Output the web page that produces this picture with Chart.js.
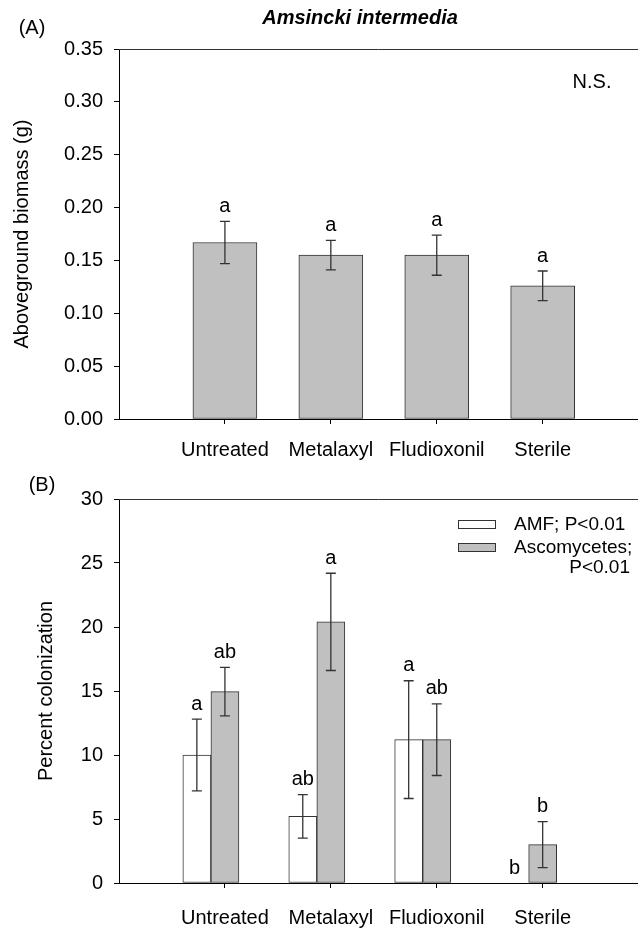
<!DOCTYPE html>
<html><head><meta charset="utf-8">
<script src="https://cdn.jsdelivr.net/npm/chart.js@4/dist/chart.umd.min.js"></script>
<style>
html,body{margin:0;padding:0;background:#fff;}
#wrap{position:relative;width:638px;height:929px;overflow:hidden;}
.box{position:absolute;left:0;width:638px;}
</style></head><body>
<div id="wrap">
<div class="box" style="top:0;height:465px"><canvas id="c1" width="638" height="465"></canvas></div>
<div class="box" style="top:465px;height:464px"><canvas id="c2" width="638" height="464"></canvas></div>
</div>
<script>
// ---- data ----
const categories = ['Untreated', 'Metalaxyl', 'Fludioxonil', 'Sterile'];
const biomass = [0.167, 0.155, 0.155, 0.126];
const biomassErr = [0.020, 0.014, 0.019, 0.014];
const biomassLetters = ['a', 'a', 'a', 'a'];
const amf = [10.0, 5.2, 11.2, 0];
const amfErr = [2.8, 1.7, 4.6, 0];
const amfLetters = ['a', 'ab', 'a', 'b'];
const asco = [14.95, 20.4, 11.2, 3.0];
const ascoErr = [1.9, 3.8, 2.8, 1.8];
const ascoLetters = ['ab', 'a', 'ab', 'b'];
const biomassTicks = [0, 0.05, 0.10, 0.15, 0.20, 0.25, 0.30, 0.35];
const colonTicks = [0, 5, 10, 15, 20, 25, 30];
const seriesNames = ['AMF; P<0.01', 'Ascomycetes;', 'P<0.01'];

// ---- style ----
const FONT = "'Liberation Sans', Arial, Helvetica, sans-serif";
Chart.defaults.font.family = FONT;
Chart.defaults.font.size = 20;
Chart.defaults.color = '#000';
const GRAY = '#c0c0c0';
const EDGE = '#333333';
const AMF_SHIFT = 0.265; // dodge of the AMF bar to the left of its category tick

function xScale(height, pad) {
  return {
    type: 'linear', min: 0, max: 4.9, offset: false,
    afterBuildTicks: s => { s.ticks = categories.map((c, i) => ({ value: i + 1 })); },
    afterFit: s => { s.height = height; },
    ticks: { autoSkip: false, maxRotation: 0, minRotation: 0, padding: pad, callback: v => categories[v - 1] || '' },
    grid: { display: true, offset: false, drawOnChartArea: false, drawTicks: true, tickLength: 5, color: '#000', lineWidth: 1 },
    border: { display: true, color: '#000', width: 1 }
  };
}
function yScale(max, ticks, fmt, title, tpad) {
  return {
    min: 0, max: max,
    afterBuildTicks: s => { s.ticks = ticks.map(v => ({ value: v })); },
    afterFit: s => { s.width = 119; },
    ticks: { padding: 11, callback: fmt },
    grid: { display: true, drawOnChartArea: false, drawTicks: true, tickLength: 5, color: '#000', lineWidth: 1 },
    border: { display: true, color: '#000', width: 1 },
    title: { display: true, text: title, font: { size: 20 }, padding: { top: tpad, bottom: 0 } }
  };
}

function errAndLetters(chart, sets) {
  const ctx = chart.ctx, ys = chart.scales.y;
  ctx.save();
  sets.forEach(([di, vals, errs, letters]) => {
    const meta = chart.getDatasetMeta(di);
    meta.data.forEach((bar, i) => {
      const x = bar.x;
      const top = ys.getPixelForValue(vals[i] + errs[i]);
      const bot = ys.getPixelForValue(vals[i] - errs[i]);
      if (errs[i] > 0) {
        ctx.strokeStyle = EDGE; ctx.lineWidth = 1.3;
        ctx.beginPath();
        ctx.moveTo(x, top); ctx.lineTo(x, bot);
        ctx.moveTo(x - 5, top); ctx.lineTo(x + 5, top);
        ctx.moveTo(x - 5, bot); ctx.lineTo(x + 5, bot);
        ctx.stroke();
      }
      ctx.fillStyle = '#000';
      ctx.font = '20px ' + FONT;
      ctx.textAlign = 'center'; ctx.textBaseline = 'middle';
      ctx.fillText(letters[i], x, top - 15);
    });
  });
  ctx.restore();
}
function topBorder(chart) {
  const ctx = chart.ctx, a = chart.chartArea;
  ctx.save(); ctx.strokeStyle = EDGE; ctx.lineWidth = 1;
  ctx.beginPath(); ctx.moveTo(a.left, a.top + 0.5); ctx.lineTo(a.right, a.top + 0.5); ctx.stroke();
  ctx.restore();
}

// ---- panel A ----
new Chart(document.getElementById('c1'), {
  type: 'bar',
  data: { datasets: [{
    label: 'Aboveground biomass',
    data: categories.map((c, i) => ({ x: i + 1, y: biomass[i] })),
    backgroundColor: GRAY, borderColor: EDGE, borderWidth: 1, borderSkipped: false,
    barThickness: 64
  }] },
  options: {
    responsive: false, animation: false, devicePixelRatio: 1,
    layout: { padding: { top: 49, left: 0, right: 0, bottom: 0 } },
    plugins: { legend: { display: false }, tooltip: { enabled: false } },
    scales: {
      x: xScale(46, 14),
      y: yScale(0.35, biomassTicks, v => v.toFixed(2), 'Aboveground biomass (g)', 10)
    }
  },
  plugins: [{
    id: 'extrasA',
    afterDatasetsDraw: ch => errAndLetters(ch, [[0, biomass, biomassErr, biomassLetters]]),
    afterDraw: ch => {
      topBorder(ch);
      const ctx = ch.ctx; ctx.save();
      ctx.fillStyle = '#000'; ctx.textAlign = 'center'; ctx.textBaseline = 'middle';
      ctx.font = 'italic bold 20px ' + FONT; ctx.fillText('Amsincki intermedia', 360, 18);
      ctx.font = '20px ' + FONT;
      ctx.fillText('(A)', 32, 28);
      ctx.fillText('N.S.', 592, 82);
      ctx.restore();
    }
  }]
});

// ---- panel B ----
new Chart(document.getElementById('c2'), {
  type: 'bar',
  data: { datasets: [
    { label: seriesNames[0], data: categories.map((c, i) => ({ x: i + 1 - AMF_SHIFT, y: amf[i] })),
      backgroundColor: '#ffffff', borderColor: EDGE, borderWidth: 1, borderSkipped: false, barThickness: 28, grouped: false },
    { label: seriesNames[1] + ' ' + seriesNames[2], data: categories.map((c, i) => ({ x: i + 1, y: asco[i] })),
      backgroundColor: GRAY, borderColor: EDGE, borderWidth: 1, borderSkipped: false, barThickness: 28, grouped: false }
  ] },
  options: {
    responsive: false, animation: false, devicePixelRatio: 1,
    layout: { padding: { top: 34, left: 0, right: 0, bottom: 0 } },
    plugins: { legend: { display: false }, tooltip: { enabled: false } },
    scales: {
      x: xScale(46, 18),
      y: yScale(30, colonTicks, v => String(v), 'Percent colonization', 34)
    }
  },
  plugins: [{
    id: 'extrasB',
    afterDatasetsDraw: ch => errAndLetters(ch, [[0, amf, amfErr, amfLetters], [1, asco, ascoErr, ascoLetters]]),
    afterDraw: ch => {
      topBorder(ch);
      const ctx = ch.ctx; ctx.save();
      ctx.fillStyle = '#000'; ctx.textBaseline = 'middle';
      ctx.font = '20px ' + FONT; ctx.textAlign = 'center';
      ctx.fillText('(B)', 42, 20);
      // legend
      const ds = ch.data.datasets;
      ctx.lineWidth = 1; ctx.strokeStyle = EDGE;
      [[ds[0], 55], [ds[1], 78]].forEach(([d, y]) => {
        ctx.fillStyle = d.backgroundColor; ctx.fillRect(458, y, 38, 9);
        ctx.strokeRect(458.5, y + 0.5, 37, 8);
      });
      ctx.fillStyle = '#000'; ctx.font = '19px ' + FONT; ctx.textAlign = 'left';
      ctx.fillText(seriesNames[0], 514, 60);
      ctx.fillText(seriesNames[1], 514, 83);
      ctx.textAlign = 'right';
      ctx.fillText(seriesNames[2], 630, 103);
      ctx.restore();
    }
  }]
});
</script>
</body></html>
